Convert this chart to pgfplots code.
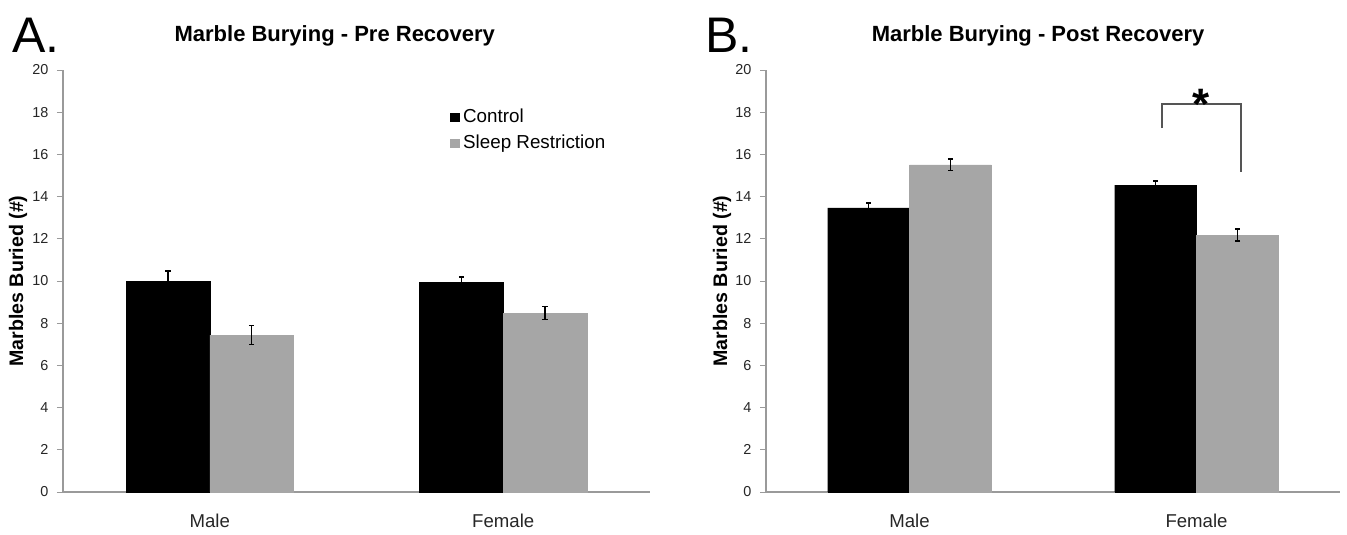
\documentclass[border=0pt]{standalone}
\usepackage{pgfplots}
\pgfplotsset{compat=1.18}
\usepackage{fontspec}
\setmainfont{Liberation Sans}
\definecolor{barGray}{HTML}{A6A6A6}
\definecolor{axGray}{HTML}{9A9A9A}
\definecolor{brGray}{HTML}{555555}
\begin{document}
\begin{tikzpicture}
\pgfplotsset{
 mystyle/.style={
  scale only axis, height=211pt,
  ymin=0,ymax=20, ytick={0,2,...,20},
  xmin=-0.5,xmax=1.5, xtick={0,1}, xticklabels={Male,Female},
  axis x line*=bottom, axis y line*=left,
  axis line style={axGray, line width=0.6pt},
  ytick style={axGray, line width=0.5pt}, tick align=outside, major tick length=3pt,
  xtick style={draw=none},
  ybar=0pt, bar width=0.285,
  legend image code/.code={\fill[##1] (0pt,-2.1pt) rectangle (4.2pt,2.1pt);},
  yticklabel style={font=\fontsize{7.2}{8}\selectfont, xshift=-0.8pt, text=black!85},
  xticklabel style={font=\fontsize{9.3}{11}\selectfont, yshift=-4.4pt, text=black!85},
  /pgf/number format/assume math mode=true,
  ylabel={Marbles Buried (\#)},
  ylabel style={font=\bfseries\fontsize{9.8}{11}\selectfont, at={(axis description cs:-0.0767,0.5)}, anchor=center},
  title style={font=\bfseries\fontsize{11}{13}\selectfont, anchor=base, yshift=8.5pt},
  clip=false,
 },
 errstyle/.style={error bars/.cd, y dir=both, y explicit, error mark=|,
   error bar style={black, draw=black, line width=0.6pt},
   error mark options={black, draw=black, mark size=1.3pt, line width=0.6pt}},
}
\begin{axis}[mystyle, width=293.5pt,
  title={Marble Burying - Pre Recovery},
  title style={at={(rel axis cs:0.463,1)}},
  legend style={at={(rel axis cs:0.649,0.928)}, anchor=north west, draw=none, fill=none,
    font=\fontsize{9.4}{11}\selectfont, row sep=0.6pt, nodes={inner xsep=2pt}},
  legend cell align=left]
\addplot[fill=black, draw=black, line width=0.2pt, errstyle] coordinates {(0,10.0) +- (0,0.47) (1,9.95) +- (0,0.24)};
\addplot[fill=barGray, draw=barGray, line width=0.2pt, errstyle] coordinates {(0,7.44) +- (0,0.45) (1,8.48) +- (0,0.3)};
\legend{Control, Sleep Restriction}
\end{axis}
\begin{axis}[mystyle, width=287pt, xshift=351.5pt,
  title={Marble Burying - Post Recovery},
  title style={at={(rel axis cs:0.474,1)}}]
\addplot[fill=black, draw=black, line width=0.2pt, errstyle] coordinates {(0,13.46) +- (0,0.24) (1,14.55) +- (0,0.19)};
\addplot[fill=barGray, draw=barGray, line width=0.2pt, errstyle] coordinates {(0,15.5) +- (0,0.28) (1,12.18) +- (0,0.28)};
\addplot[ybar=0pt, sharp plot, draw=brGray, line width=0.8pt, fill=none, bar shift=0pt, forget plot] coordinates {(0.88,17.25) (0.88,18.4) (1.155,18.4) (1.155,15.17)};
\node[font=\bfseries\fontsize{22}{24}\selectfont, inner sep=0pt] at (axis cs:1.015,18.37) {*};
\end{axis}
\node[anchor=base west, inner sep=0pt, font=\fontsize{25}{30}\selectfont] at (-25.5pt,219.5pt) {A.};
\node[anchor=base west, inner sep=0pt, font=\fontsize{25}{30}\selectfont] at (321pt,219.5pt) {B.};
\path[use as bounding box] (-31.5pt,-16.5pt) rectangle (642pt,246pt);
\end{tikzpicture}
\end{document}
